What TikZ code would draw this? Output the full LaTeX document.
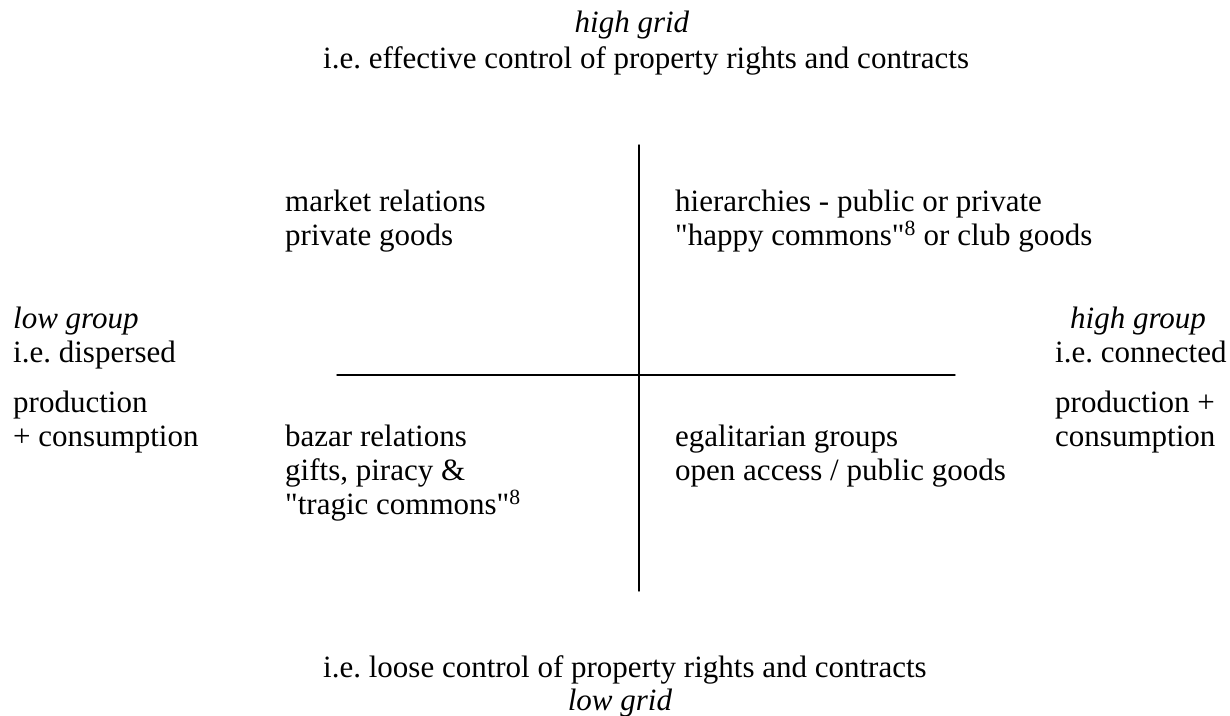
\documentclass[tikz,border=0pt]{standalone}
\usepackage{fontspec}
\setmainfont{Liberation Serif}
\usepackage{tkz-euclide}
\tikzset{>=stealth}
\tikzset{quad/.style={anchor=base west, align=left, inner sep=0pt, font=\fontsize{31}{34}\selectfont}}
\frenchspacing

\begin{document}
\begin{tikzpicture}[x=1pt,y=1pt]
    \useasboundingbox (0,0) rectangle (1230,-715);
    \tkzDefPoints{639/-145/T, 639/-591/B, 337/-375/L, 955/-375/R}
    \tkzDrawSegments[line width=1.4pt](T,B L,R)
    % grid axis
    \node[quad, anchor=base] (hgrid) at (632,-32) {\textit{high grid}};
    \node[quad] (hgridtxt) at (323,-68) {i.e. effective control of property rights and contracts};
    \node[quad] (lgridtxt) at (323,-677) {i.e. loose control of property rights and contracts};
    \node[quad, anchor=base] (lgrid) at (620,-710) {\textit{low grid}};
    % group axis
    \node[quad] (lgroup) at (13,-446) {\textit{low group}\\i.e. dispersed\\[16pt]production\\+ consumption};
    \node[quad] (hgroup) at (1055,-446) {\hspace{15pt}\textit{high group}\\i.e. connected\\[16pt]production +\\consumption};
    % quadrants
    \node[quad] (market) at (285,-245) {market relations\\private goods};
    \node[quad] (hier) at (675,-245) {hierarchies - public or private\\\textquotedbl happy commons\textquotedbl\textsuperscript{8} or club goods};
    \node[quad] (bazar) at (285,-514) {bazar relations\\gifts, piracy \&\\\textquotedbl tragic commons\textquotedbl\textsuperscript{8}};
    \node[quad] (egal) at (675,-480) {egalitarian groups\\open access / public goods};
\end{tikzpicture}
\end{document}
